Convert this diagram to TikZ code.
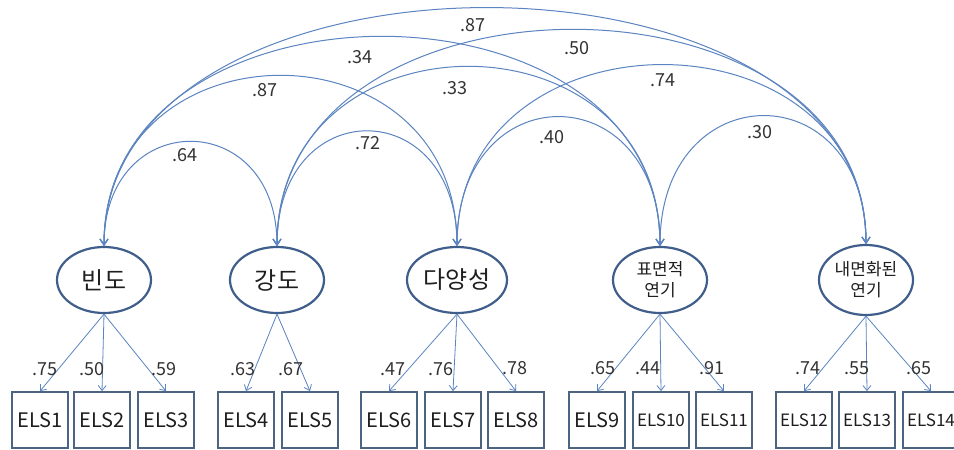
\documentclass[tikz,border=0pt]{standalone}
\usepackage{fontspec}
\setmainfont{Noto Sans CJK KR}
\usetikzlibrary{shapes.geometric,arrows.meta}

\definecolor{linecol}{HTML}{5B84C0}
\definecolor{ellcol}{HTML}{3F5E8C}
\definecolor{boxcol}{HTML}{4D6480}
\definecolor{txtcol}{HTML}{1E1E1E}
\definecolor{numcol}{HTML}{333333}

\tikzset{
  latent/.style={ellipse, draw=ellcol, line width=2.2pt, minimum width=94pt,
    minimum height=66pt, inner sep=0pt, align=center, text=txtcol},
  bigname/.style={font=\fontsize{24}{28}\selectfont},
  smallname/.style={font=\fontsize{17}{21}\selectfont},
  obs/.style={rectangle, draw=boxcol, line width=1.8pt, minimum width=56pt,
    minimum height=56pt, inner sep=0pt, text=txtcol,
    font=\fontsize{20}{24}\selectfont},
  obssmall/.style={obs, font=\fontsize{17}{20}\selectfont},
  load/.style={draw=linecol, line width=0.8pt,
    -{Straight Barb[length=5pt,width=8pt]}},
  cov/.style={draw=linecol, line width=1pt,
    {Straight Barb[length=6pt,width=8pt]}-{Straight Barb[length=6pt,width=8pt]}},
  coef/.style={text=numcol, inner sep=0pt, font=\fontsize{18}{20}\selectfont}
}

\begin{document}
\begin{tikzpicture}[x=1pt,y=-1pt]
\useasboundingbox[fill=white] (0,0) rectangle (954,450);

% latent factors
\node[latent, bigname] (f1) at (104,280) {\makebox[0pt]{빈도}};
\node[latent, bigname] (f2) at (277,280) {\makebox[0pt]{강도}};
\node[latent, bigname, minimum width=100pt] (f3) at (457,280) {\makebox[0pt]{다양성}};
\node[latent, smallname] (f4) at (660,280) {\makebox[0pt]{표면적}\\\makebox[0pt]{연기}};
\node[latent, smallname, minimum height=70pt] (f5) at (866,280) {\makebox[0pt]{내면화된}\\\makebox[0pt]{연기}};

% observed indicators
\node[obs] (e1) at (40,420) {ELS1};
\node[obs] (e2) at (102,420) {ELS2};
\node[obs] (e3) at (166,420) {ELS3};
\node[obs] (e4) at (246,420) {ELS4};
\node[obs] (e5) at (310,420) {ELS5};
\node[obs] (e6) at (389,420) {ELS6};
\node[obs] (e7) at (453,420) {ELS7};
\node[obs] (e8) at (516,420) {ELS8};
\node[obs] (e9) at (597,420) {ELS9};
\node[obssmall] (e10) at (661,420) {ELS10};
\node[obssmall] (e11) at (724,420) {ELS11};
\node[obssmall] (e12) at (804,420) {ELS12};
\node[obssmall] (e13) at (867,420) {ELS13};
\node[obssmall] (e14) at (931,420) {ELS14};

% factor loadings
\draw[load] (f1.south) -- (e1.north);
\draw[load] (f1.south) -- (e2.north);
\draw[load] (f1.south) -- (e3.north);
\draw[load] (f2.south) -- (e4.north);
\draw[load] (f2.south) -- (e5.north);
\draw[load] (f3.south) -- (e6.north);
\draw[load] (f3.south) -- (e7.north);
\draw[load] (f3.south) -- (e8.north);
\draw[load] (f4.south) -- (e9.north);
\draw[load] (f4.south) -- (e10.north);
\draw[load] (f4.south) -- (e11.north);
\draw[load] (f5.south) -- (e12.north);
\draw[load] (f5.south) -- (e13.north);
\draw[load] (f5.south) -- (e14.north);

\node[coef] (l1) at (45,369) {.75};
\node[coef] (l2) at (92,369) {.50};
\node[coef] (l3) at (164,369) {.59};
\node[coef] (l4) at (243,369) {.63};
\node[coef] (l5) at (291,369) {.67};
\node[coef] (l6) at (393,369) {.47};
\node[coef] (l7) at (441,369) {.76};
\node[coef] (l8) at (515,368) {.78};
\node[coef] (l9) at (603,368) {.65};
\node[coef] (l10) at (648,368) {.44};
\node[coef] (l11) at (712,368) {.91};
\node[coef] (l12) at (808,368) {.74};
\node[coef] (l13) at (857,368) {.55};
\node[coef] (l14) at (919,368) {.65};

% factor correlations
\draw[cov] (f1.north) .. controls +(0,-139) and +(0,-139) .. (f2.north);
\draw[cov] (f2.north) .. controls +(0,-153) and +(0,-153) .. (f3.north);
\draw[cov] (f1.north) .. controls +(0,-227) and +(0,-227) .. (f3.north);
\draw[cov] (f3.north) .. controls +(0,-172) and +(0,-172) .. (f4.north);
\draw[cov] (f4.north) .. controls +(0,-172) and +(0,-172) .. (f5.north);
\draw[cov] (f2.north) .. controls +(0,-239) and +(0,-239) .. (f4.north);
\draw[cov] (f3.north) .. controls +(0,-240) and +(0,-240) .. (f5.north);
\draw[cov] (f1.north) .. controls +(0,-279) and +(0,-279) .. (f4.north);
\draw[cov] (f2.north) .. controls +(0,-287) and +(0,-287) .. (f5.north);
\draw[cov] (f1.north) .. controls +(0,-316) and +(0,-316) .. (f5.north);

\node[coef] (c12) at (185,155) {.64};
\node[coef] (c23) at (368,143) {.72};
\node[coef] (c13) at (265,90) {.87};
\node[coef] (c34) at (552,137) {.40};
\node[coef] (c45) at (760,132) {.30};
\node[coef] (c24) at (455,88) {.33};
\node[coef] (c35) at (663,80) {.74};
\node[coef] (c14) at (360,57) {.34};
\node[coef] (c25) at (577,48) {.50};
\node[coef] (c15) at (473,25) {.87};
\end{tikzpicture}
\end{document}
